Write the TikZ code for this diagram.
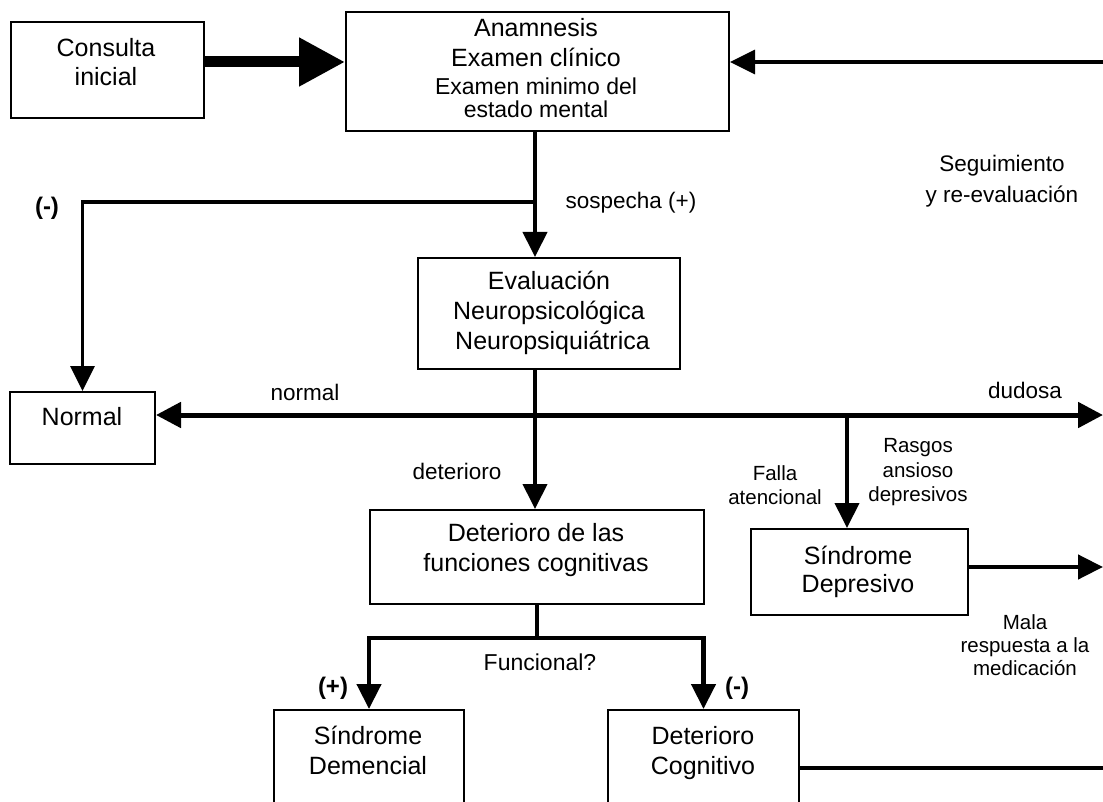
\documentclass[tikz,border=0pt]{standalone}
\usepackage{fontspec}
\setmainfont{Liberation Sans}
\usetikzlibrary{arrows.meta}
\begin{document}
\begin{tikzpicture}[x=1pt,y=-1pt,
 box/.style={draw, line width=2pt, inner sep=0pt, anchor=north west},
 txt/.style={inner sep=0pt, align=center, font=\fontsize{25}{30}\selectfont},
 txtsm/.style={inner sep=0pt, align=center, font=\fontsize{23}{23}\selectfont},
 lbl/.style={inner sep=0pt, align=center, font=\fontsize{22.5}{31}\selectfont},
 sml/.style={inner sep=0pt, align=center, font=\fontsize{20.5}{24.5}\selectfont},
 sgn/.style={inner sep=0pt, font=\bfseries\fontsize{24}{30}\selectfont},
 conn/.style={line width=4pt},
 tip/.style={-{Triangle[length=25pt,width=24pt]}},
]
\clip (0,0) rectangle (1103,802);
% boxes
\node[box, minimum width=193pt, minimum height=96pt] (consulta) at (10,21) {};
\node[box, minimum width=383pt, minimum height=119pt] (anam) at (345,11) {};
\node[box, minimum width=262pt, minimum height=111pt] (eval) at (417,257) {};
\node[box, minimum width=145pt, minimum height=72pt] (normal) at (9,391) {};
\node[box, minimum width=334pt, minimum height=94pt] (det) at (369,509) {};
\node[box, minimum width=217pt, minimum height=86pt] (sd) at (750,528) {};
\node[box, minimum width=190pt, minimum height=120pt] (sdem) at (273,709) {};
\node[box, minimum width=191pt, minimum height=120pt] (dcog) at (607,709) {};
% box texts
\node[txt] (tconsulta) at (106,62) {Consulta\\[-1pt]inicial};
\node[txt] (tanam1) at (536,28) {Anamnesis};
\node[txt] (tanam2) at (536,57) {Examen clínico};
\node[txtsm] (tanam3) at (536,86) {Examen minimo del};
\node[txtsm] (tanam4) at (536,109) {estado mental};
\node[txt] (teval) at (549,313) {Evaluación\\Neuropsicológica\\\ Neuropsiquiátrica};
\node[txt] (tnormal) at (82,417) {Normal};
\node[txt] (tdet) at (536,550) {Deterioro de las\\funciones cognitivas};
\node[txt] (tsd) at (858,572) {Síndrome\\[-2pt]Depresivo};
\node[txt] (tsdem) at (368,750) {Síndrome\\Demencial};
\node[txt] (tdcog) at (703,753) {Deterioro\\Cognitivo};
% labels
\node[lbl] (lseg) at (1002,181) {Seguimiento\\y re-evaluación};
\node[lbl] (lsos) at (631,203) {sospecha (+)};
\node[sgn] (lneg1) at (47,208) {(-)};
\node[lbl] (lnormal) at (305,392) {normal};
\node[lbl] (ldud) at (1025,390) {dudosa};
\node[lbl] (ldet) at (457,471) {deterioro};
\node[sml] (lfalla) at (775,485) {Falla\\atencional};
\node[sml] (lrasgos) at (918,472.5) {Rasgos\\ansioso\\depresivos};
\node[sml, font=\fontsize{20.5}{23}\selectfont] (lmala) at (1025,645) {Mala\\respuesta a la\\medicación};
\node[lbl, font=\fontsize{23}{30}\selectfont] (lfun) at (540,662) {Funcional?};
\node[sgn] (lpos) at (333,688) {(+)};
\node[sgn] (lneg2) at (737,688) {(-)};
% connectors
\coordinate (yA) at (0,62);
\draw[line width=11pt, -{Triangle[length=46pt,width=46pt]}] (consulta.east |- yA) -- (anam.west |- yA);
\coordinate (rt) at (1103,62);
\draw[line width=3.5pt, tip] (rt) -- (anam.east |- rt);
\coordinate (j1) at (535,202);
\draw[conn, tip] (j1 |- anam.south) -- (j1 |- eval.north);
\draw[line width=3.5pt, tip] (j1) -- (normal.north |- j1) -- (normal.north);
\coordinate (yN) at (0,415);
\coordinate (rN) at (1103,415);
\draw[conn, tip] (j1 |- eval.south) -- (j1 |- det.north);
\draw[line width=5pt, {Triangle[length=25pt,width=25pt]}-{Triangle[length=25pt,width=25pt]}] (normal.east |- yN) -- (rN);
\coordinate (bSD) at (847,415);
\draw[conn, tip] (bSD) -- (bSD |- sd.north);
\coordinate (rSD) at (1103,567);
\draw[line width=4.5pt, tip] (sd.east |- rSD) -- (rSD);
\coordinate (yF) at (0,638);
\draw[conn] (det.south) -- (det.south |- yF);
\draw[line width=4.5pt, {Triangle[length=25pt,width=24pt]}-{Triangle[length=25pt,width=24pt]}] (sdem.north) -- (sdem.north |- yF) -- (dcog.north |- yF) -- (dcog.north);
\coordinate (rDC) at (1103,768);
\draw[line width=3.5pt] (dcog.east |- rDC) -- (rDC);
\end{tikzpicture}
\end{document}
